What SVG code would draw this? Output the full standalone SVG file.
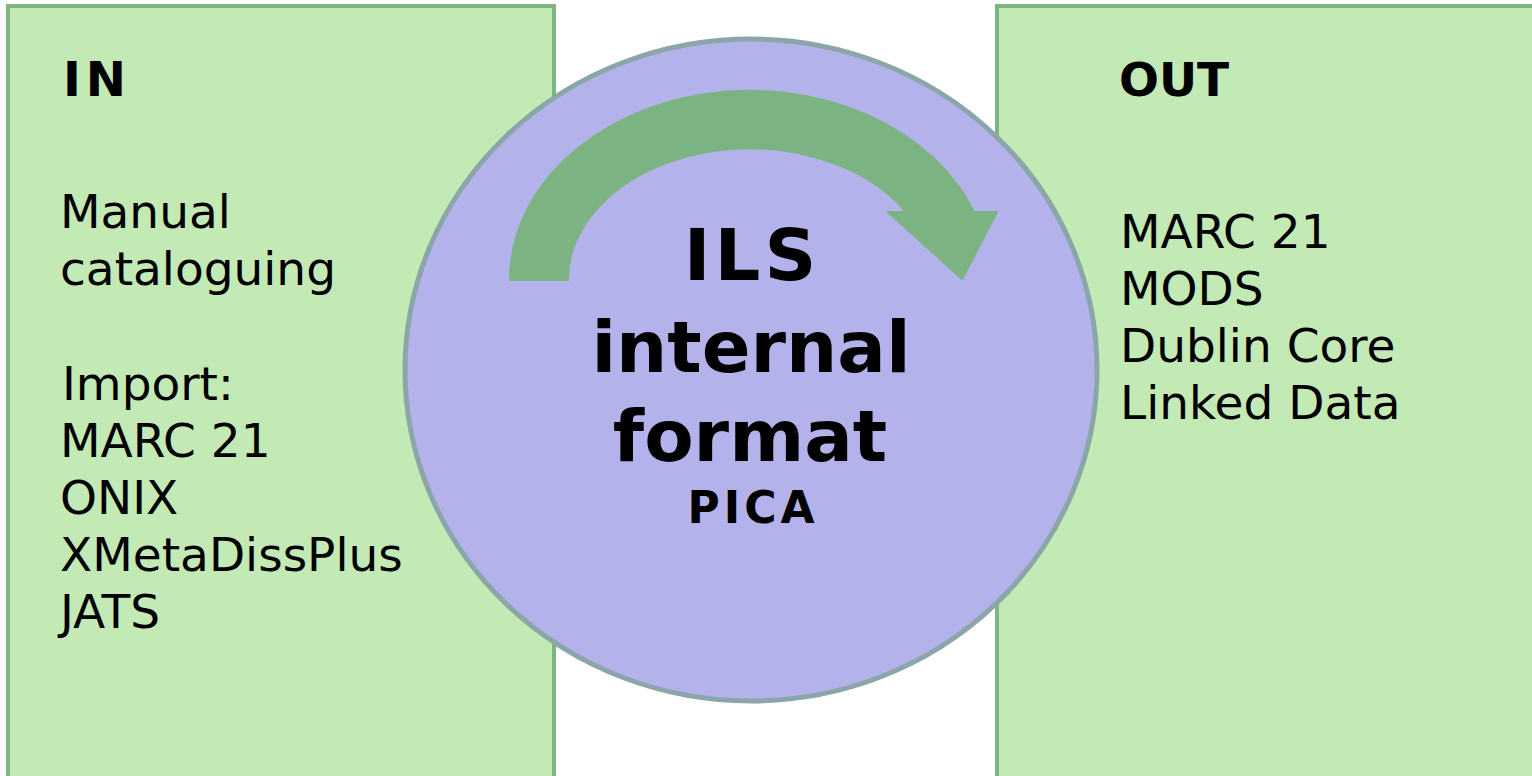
<svg xmlns="http://www.w3.org/2000/svg" width="1532" height="776" viewBox="0 0 1532 776">
<style>
.box{fill:#c3e9b5;stroke:#7db583;stroke-width:4}
.core{fill:#b4b2ea;stroke:#8aa6a8;stroke-width:5}
.arrow{fill:#7bb482;stroke:#7bb482;stroke-width:2;stroke-linejoin:round}
.t{font-family:"DejaVu Sans","Verdana",sans-serif;font-size:47px;fill:#000}
.h{font-family:"DejaVu Sans","Verdana",sans-serif;font-weight:bold;fill:#000}
</style>
<rect width="1532" height="776" fill="#ffffff"/>
<g id="in">
<rect class="box" x="8" y="6" width="546" height="780"/>
<text class="h" x="63" y="96" font-size="48" letter-spacing="5">IN</text>
<text class="t" x="60" y="228">Manual</text>
<text class="t" x="60" y="285">cataloguing</text>
<text class="t" x="62" y="400">Import:</text>
<text class="t" x="60" y="457">MARC 21</text>
<text class="t" x="60" y="514">ONIX</text>
<text class="t" x="60" y="571">XMetaDissPlus</text>
<text class="t" x="60" y="628">JATS</text>
</g>
<g id="out">
<rect class="box" x="997" y="6" width="550" height="780"/>
<text class="h" x="1119" y="96" font-size="47">OUT</text>
<text class="t" x="1120" y="248">MARC 21</text>
<text class="t" x="1120" y="305">MODS</text>
<text class="t" x="1120" y="362">Dublin Core</text>
<text class="t" x="1120" y="419">Linked Data</text>
</g>
<g id="ils">
<ellipse class="core" cx="751" cy="370" rx="346" ry="331"/>
</g>
<g id="connectors">
<path class="arrow" d="M 510 280 A 240 189 0 0 1 974 212 L 997 212 L 962 279 L 888 212 L 906 212 A 182 131 0 0 0 568 280 Z"/>
</g>
<g id="ils-label" text-anchor="middle">
<text class="h" x="752" y="280" font-size="72" letter-spacing="4">ILS</text>
<text class="h" x="751" y="372" font-size="72">internal</text>
<text class="h" x="750" y="461" font-size="72">format</text>
<text class="h" x="753" y="523" font-size="44" letter-spacing="4">PICA</text>
</g>
</svg>
